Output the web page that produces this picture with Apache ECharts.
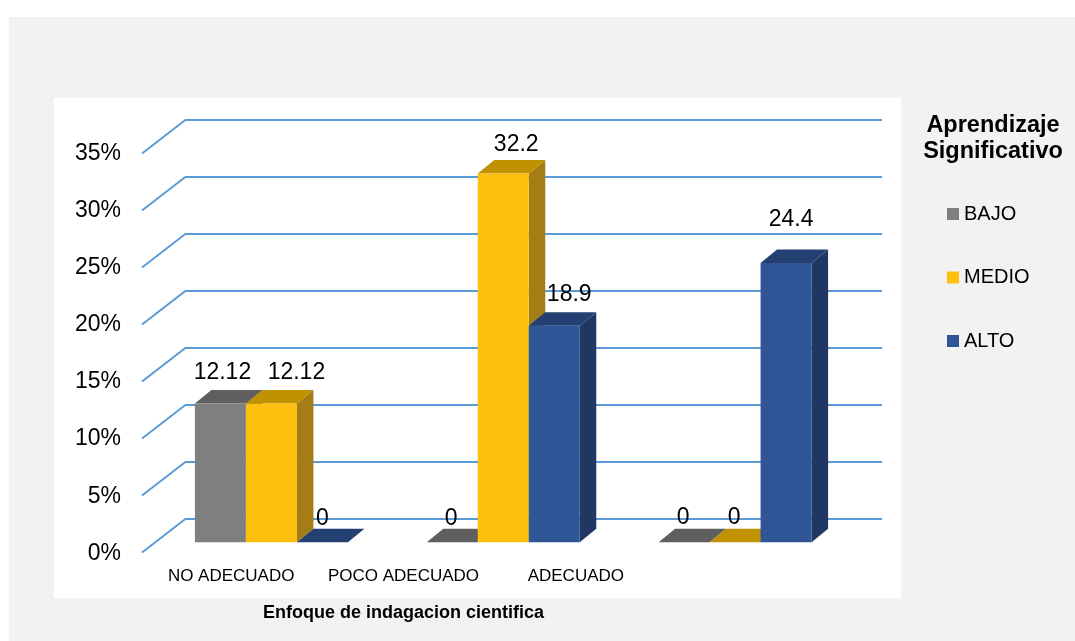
<!DOCTYPE html>
<html>
<head>
<meta charset="utf-8">
<script src="https://cdn.jsdelivr.net/npm/echarts@6/dist/echarts.min.js"></script>
<style>
  html, body { margin: 0; padding: 0; background: #fff; }
  #chart { width: 1075px; height: 641px; }
</style>
</head>
<body>
<div id="chart"></div>
<script>
// datos
const categorias = ['NO ADECUADO', 'POCO ADECUADO', 'ADECUADO'];
const niveles = ['BAJO', 'MEDIO', 'ALTO'];
const bajo = [12.12, 0, 0];
const medio = [12.12, 32.2, 0];
const alto = [0, 18.9, 24.4];
const yTicks = [0, 5, 10, 15, 20, 25, 30, 35];

// colores cara frontal / superior / lateral
const caras = [
  { front: '#7f7f7f', top: '#5f5f5f', side: '#575757' },
  { front: '#fdc00f', top: '#c09100', side: '#a47d16' },
  { front: '#2f5597', top: '#243f72', side: '#1f3761' }
];
// ajuste manual de las etiquetas (dx, dy) respecto al frente de cada barra
const ajusteEtiq = [
  [[2, -31], [-1, -24], [-1, -25]],
  [[25, -31], [13, -29], [-1, -25]],
  [[0, -24], [15, -31], [5, -43]]
];

const DX = 16.5, DY = -13.5;      // profundidad de barra
const WX = 44, WY = 34;           // profundidad pared
const FONT = '"Liberation Sans", Arial, sans-serif';

const chart = echarts.init(document.getElementById('chart'));

const barSeries = [bajo, medio, alto].map((arr, s) => ({
  name: niveles[s],
  type: 'custom',
  xAxisIndex: 2,
  yAxisIndex: 2,
  itemStyle: { color: caras[s].front },
  encode: { x: 0, y: 1 },
  data: arr.map((v, i) => [i, v]),
  renderItem: (params, api) => {
    const cat = api.value(0), val = api.value(1);
    const base = api.coord([cat, 0]);
    const top = api.coord([cat, val]);
    const band = api.size([1, 0])[0];
    const bw = band * 0.22;
    const x0 = base[0] + (s - 1.5) * bw;
    const x1 = x0 + bw;
    const y0 = base[1], y1 = top[1];
    const c = caras[s];
    const children = [];
    if (val > 0) {
      children.push({
        type: 'polygon',
        shape: { points: [[x1, y1], [x1 + DX, y1 + DY], [x1 + DX, y0 + DY], [x1, y0]] },
        style: { fill: c.side }
      });
    }
    children.push({
      type: 'polygon',
      shape: { points: [[x0, y1], [x1, y1], [x1 + DX, y1 + DY], [x0 + DX, y1 + DY]] },
      style: { fill: c.top }
    });
    if (val > 0) {
      children.push({
        type: 'rect',
        shape: { x: x0, y: y1, width: bw, height: y0 - y1 },
        style: { fill: c.front }
      });
    }
    const adj = ajusteEtiq[s][cat];
    children.push({
      type: 'text',
      style: {
        text: String(val),
        x: x0 + bw / 2 + adj[0],
        y: y1 + adj[1],
        align: 'center',
        verticalAlign: 'middle',
        fontSize: 23,
        fontFamily: FONT,
        fill: '#000'
      }
    });
    return { type: 'group', children };
  }
}));

const option = {
  animation: false,
  backgroundColor: '#fff',
  textStyle: { fontFamily: FONT, color: '#000' },
  graphic: [
    { type: 'rect', z: -10, shape: { x: 9, y: 17, width: 1066, height: 624 }, style: { fill: '#f2f2f2' } },
    { type: 'rect', z: -10, shape: { x: 54, y: 98, width: 847, height: 500 }, style: { fill: '#fff' } },
    {
      type: 'text', x: 993, y: 113,
      style: {
        text: 'Aprendizaje\nSignificativo', align: 'center', verticalAlign: 'top',
        fontSize: 23.5, fontWeight: 'bold', lineHeight: 26, fontFamily: FONT, fill: '#000'
      }
    }
  ],
  legend: {
    data: niveles,
    orient: 'vertical',
    left: 942,
    top: 199,
    icon: 'rect',
    itemWidth: 12,
    itemHeight: 12,
    itemGap: 43.5,
    textStyle: { fontSize: 20, lineHeight: 20, fontFamily: FONT, color: '#000', padding: [0, 0, 0, 0] }
  },
  grid: [
    // pared del fondo (lineas de division)
    { left: 186, right: 193, top: 119.5, bottom: 122.5 },
    // plano frontal (etiquetas del eje Y)
    { left: 142, width: 10, top: 153.3, bottom: 87.7 },
    // plano de las barras
    { left: 155.5, right: 224, top: 141.5, bottom: 98.7 },
    // etiquetas de categoria
    { left: 145, width: 517, top: 500, bottom: 81 }
  ],
  xAxis: [
    { gridIndex: 0, type: 'value', min: 0, max: 1, show: false },
    { gridIndex: 1, type: 'category', data: categorias, show: false },
    { gridIndex: 2, type: 'category', data: categorias, show: false },
    {
      gridIndex: 3, type: 'category', data: categorias,
      axisLine: { show: false }, axisTick: { show: false },
      axisLabel: { margin: 8, fontSize: 17, color: '#000', interval: 0 },
      name: 'Enfoque de indagacion cientifica',
      nameLocation: 'middle',
      nameGap: 44,
      nameTextStyle: { fontSize: 18, fontWeight: 'bold', color: '#000' }
    }
  ],
  yAxis: [
    {
      gridIndex: 0, type: 'value', min: 0, max: 35, interval: 5,
      axisLine: { show: false }, axisTick: { show: false }, axisLabel: { show: false },
      splitLine: { show: true, lineStyle: { color: '#5b9bd5', width: 2 } }
    },
    {
      gridIndex: 1, type: 'value', min: 0, max: 35, interval: 5,
      axisLine: { show: false }, axisTick: { show: false }, splitLine: { show: false },
      axisLabel: { margin: 21, fontSize: 23, color: '#000', formatter: '{value}%' }
    },
    { gridIndex: 2, type: 'value', min: 0, max: 35, show: false, splitLine: { show: false } },
    { gridIndex: 3, type: 'value', show: false, splitLine: { show: false } }
  ],
  series: [
    {
      name: 'diagonales',
      type: 'custom',
      xAxisIndex: 0,
      yAxisIndex: 0,
      silent: true,
      data: yTicks.map(v => [0, v]),
      renderItem: (params, api) => {
        const p = api.coord([0, api.value(1)]);
        return {
          type: 'line',
          shape: { x1: p[0] - WX, y1: p[1] + WY, x2: p[0], y2: p[1] },
          style: { stroke: '#5b9bd5', lineWidth: 2 }
        };
      }
    },
    ...barSeries
  ]
};

chart.setOption(option);
window.addEventListener('resize', () => chart.resize());
</script>
</body>
</html>
